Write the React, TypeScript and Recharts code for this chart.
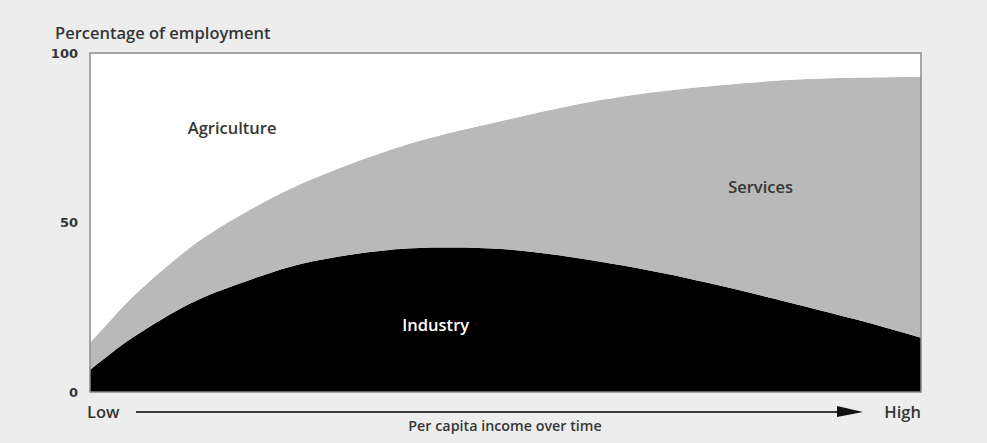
import React from "react";
import { AreaChart, Area, XAxis, YAxis, ReferenceArea, ReferenceDot } from "recharts";

// Position along the income axis (0 = Low, 100 = High)
const incomeSteps = [0, 3, 6, 12, 18, 24, 30, 36, 42, 50, 60, 72, 84, 92, 100];
// Share of employment in industry (%)
const industryShare = [6.5, 12.3, 17.4, 26, 32, 36.9, 40, 41.9, 42.6, 42.1, 39, 33.5, 26.5, 21.5, 16];
// Industry + services combined (%)
const nonAgriShare = [14.5, 22.6, 30, 42.5, 52, 59.8, 66, 71.3, 75.6, 80.2, 85.5, 89.6, 92, 92.7, 93];
const yTicks = [0, 50, 100];

const data = incomeSteps.map((t, i) => ({
  t,
  industry: industryShare[i],
  services: nonAgriShare[i] - industryShare[i],
  agriculture: 100 - nonAgriShare[i],
}));

const FONT = "'Open Sans', 'Noto Sans', sans-serif";
const TICK_FONT = "'DejaVu Sans', sans-serif";
const TXT = "#363636";

const AreaLabel = (text: string, color: string) => (props: any) => {
  const { viewBox } = props;
  const cx = viewBox.x + (viewBox.width || 0) / 2;
  const cy = viewBox.y + (viewBox.height || 0) / 2;
  return (
    <text x={cx} y={cy} dy="0.35em" textAnchor="middle" fill={color} fontFamily={FONT} fontSize={16.5} fontWeight={600}>
      {text}
    </text>
  );
};

export default function App() {
  return (
    <div style={{ position: "absolute", left: 0, top: 0, width: 987, height: 443, background: "#ededed", fontFamily: FONT }}>
      <AreaChart width={987} height={443} data={data} margin={{ top: 53, right: 66, bottom: 51, left: 0 }}>
        <XAxis dataKey="t" type="number" domain={[0, 100]} hide />
        <YAxis
          type="number"
          domain={[0, 100]}
          ticks={yTicks}
          width={90}
          axisLine={false}
          tickLine={false}
          tickSize={0}
          tickMargin={12}
          tick={{ fill: TXT, fontSize: 13, fontWeight: 700, fontFamily: TICK_FONT }}
        />
        <Area dataKey="industry" stackId="s" type="natural" fill="#000000" fillOpacity={1} stroke="none" isAnimationActive={false} />
        <Area dataKey="services" stackId="s" type="natural" fill="#b9b9b9" fillOpacity={1} stroke="none" isAnimationActive={false} />
        <Area dataKey="agriculture" stackId="s" type="natural" fill="#ffffff" fillOpacity={1} stroke="none" isAnimationActive={false} />
        <ReferenceArea x1={0} x2={100} y1={0} y2={100} fill="none" stroke="#8a8a8a" strokeWidth={1.5} ifOverflow="visible" />
        <ReferenceDot x={17.1} y={77.9} r={0} stroke="none" label={AreaLabel("Agriculture", TXT)} />
        <ReferenceDot x={80.7} y={60.5} r={0} stroke="none" label={AreaLabel("Services", TXT)} />
        <ReferenceDot x={41.6} y={19.8} r={0} stroke="none" label={AreaLabel("Industry", "#ffffff")} />
      </AreaChart>
      <svg width={987} height={443} style={{ position: "absolute", left: 0, top: 0, pointerEvents: "none" }}>
        <text x={55} y={33} dy="0.35em" fill={TXT} fontFamily={FONT} fontSize={16.5} fontWeight={600}>
          Percentage of employment
        </text>
        <text x={87} y={412} dy="0.35em" fill={TXT} fontFamily={FONT} fontSize={16.5} fontWeight={600}>
          Low
        </text>
        <text x={921} y={412} dy="0.35em" textAnchor="end" fill={TXT} fontFamily={FONT} fontSize={16.5} fontWeight={600}>
          High
        </text>
        <line x1={136} y1={412} x2={840} y2={412} stroke="#3a3a3a" strokeWidth={2} />
        <polygon points="837,406 863,412 837,417" fill="#111111" />
        <text x={505} y={426} dy="0.35em" textAnchor="middle" fill={TXT} fontFamily={FONT} fontSize={14.3} fontWeight={600}>
          Per capita income over time
        </text>
      </svg>
    </div>
  );
}
